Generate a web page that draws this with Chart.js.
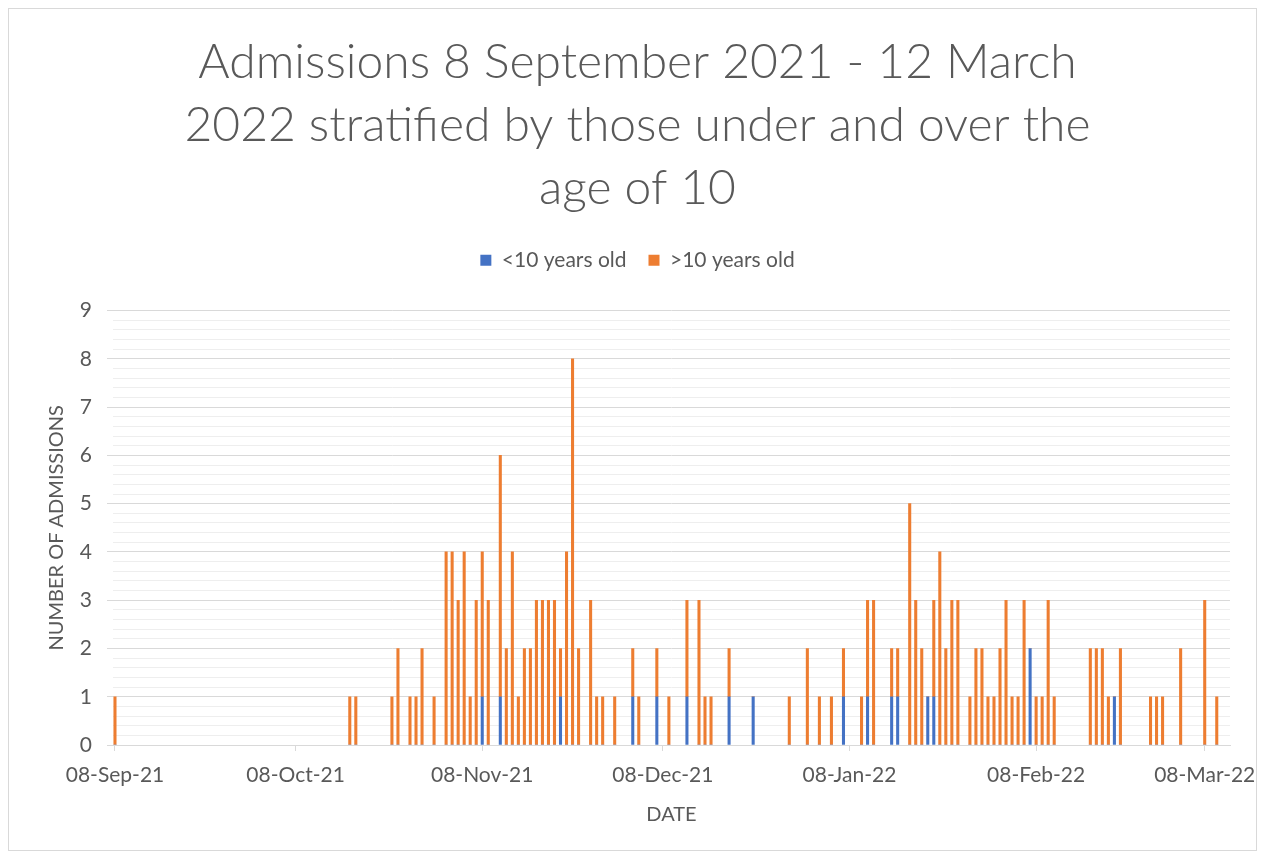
<!DOCTYPE html>
<html><head><meta charset="utf-8">
<script src="https://cdn.jsdelivr.net/npm/chart.js@4.4.1/dist/chart.umd.min.js"></script>
<style>
html,body{margin:0;padding:0;background:#fff;}
#frame{position:absolute;left:8px;top:8px;width:1249px;height:843px;border:1px solid #d9d9d9;box-sizing:border-box;}
#wrap{position:absolute;left:0;top:0;width:1264px;height:857px;}
</style></head><body>
<div id="frame"></div>
<div id="wrap"><canvas id="c" width="1264" height="857"></canvas></div>
<script>
const startDate = '2021-09-08';
const endDate = '2022-03-12';

const admissionDates = [
 '2021-09-08','2021-10-17','2021-10-18','2021-10-24','2021-10-25','2021-10-27','2021-10-28','2021-10-29','2021-10-31',
 '2021-11-02','2021-11-03','2021-11-04','2021-11-05','2021-11-06','2021-11-07','2021-11-08','2021-11-09','2021-11-11',
 '2021-11-12','2021-11-13','2021-11-14','2021-11-15','2021-11-16','2021-11-17','2021-11-18','2021-11-19','2021-11-20',
 '2021-11-21','2021-11-22','2021-11-23','2021-11-24','2021-11-26','2021-11-27','2021-11-28','2021-11-30',
 '2021-12-03','2021-12-04','2021-12-07','2021-12-09','2021-12-12','2021-12-14','2021-12-15','2021-12-16','2021-12-19',
 '2021-12-23','2021-12-29',
 '2022-01-01','2022-01-03','2022-01-05','2022-01-07','2022-01-10','2022-01-11','2022-01-12','2022-01-15','2022-01-16',
 '2022-01-18','2022-01-19','2022-01-20','2022-01-21','2022-01-22','2022-01-23','2022-01-24','2022-01-25','2022-01-26',
 '2022-01-28','2022-01-29','2022-01-30','2022-01-31',
 '2022-02-01','2022-02-02','2022-02-03','2022-02-04','2022-02-05','2022-02-06','2022-02-07','2022-02-08','2022-02-09',
 '2022-02-10','2022-02-11','2022-02-17','2022-02-18','2022-02-19','2022-02-20','2022-02-21','2022-02-22','2022-02-27',
 '2022-02-28','2022-03-01','2022-03-04','2022-03-08','2022-03-10'
];

const under10 = [
 0,0,0,0,0,0,0,0,0,
 0,0,0,0,0,0,1,0,1,
 0,0,0,0,0,0,0,0,0,
 1,0,0,0,0,0,0,0,
 1,0,1,0,1,0,0,0,1,
 1,0,
 0,0,0,1,0,1,0,1,1,
 0,0,0,1,1,0,0,0,0,
 0,0,0,0,
 0,0,0,0,0,0,2,0,0,
 0,0,0,0,0,0,1,0,0,
 0,0,0,0,0
];

const over10 = [
 1,1,1,1,2,1,1,2,1,
 4,4,3,4,1,3,3,3,5,
 2,4,1,2,2,3,3,3,3,
 1,4,8,2,3,1,1,1,
 1,1,1,1,2,3,1,1,1,
 0,1,
 2,1,1,1,1,2,3,1,1,
 5,3,2,0,2,4,2,3,3,
 1,2,2,1,
 1,2,3,1,1,3,0,1,1,
 3,1,2,2,2,1,0,2,1,
 1,1,2,3,1
];

const tickDates = ['2021-09-08','2021-10-08','2021-11-08','2021-12-08','2022-01-08','2022-02-08','2022-03-08'];
const tickLabels = ['08-Sep-21','08-Oct-21','08-Nov-21','08-Dec-21','08-Jan-22','08-Feb-22','08-Mar-22'];

const titleLines = ['Admissions 8 September 2021 - 12 March','2022 stratified by those under and over the','age of 10'];
const seriesNames = ['<10 years old','>10 years old'];

function dayIndex(s){
  const a = s.split('-').map(Number), b = startDate.split('-').map(Number);
  return Math.round((Date.UTC(a[0],a[1]-1,a[2]) - Date.UTC(b[0],b[1]-1,b[2]))/86400000);
}
const tickDays = tickDates.map(dayIndex);

const TXT = '#595959';
const isMajor = v => Math.abs(v - Math.round(v)) < 1e-6;

const legendGap = {
  id: 'legendGap',
  beforeInit(chart) {
    const origFit = chart.legend.fit;
    chart.legend.fit = function () { origFit.call(this); this.height += 30; };
  }
};

new Chart(document.getElementById('c'), {
  type: 'bar',
  plugins: [legendGap],
  data: {
    datasets: [
      { label: seriesNames[0], data: admissionDates.map((d,i)=>({x: dayIndex(d), y: under10[i]})),
        backgroundColor: '#4472C4', borderWidth: 0, barThickness: 2.4 },
      { label: seriesNames[1], data: admissionDates.map((d,i)=>({x: dayIndex(d), y: over10[i]})),
        backgroundColor: '#ED7D31', borderWidth: 0, barThickness: 2.4 }
    ]
  },
  options: {
    responsive: false,
    animation: false,
    layout: { padding: { left: 45, right: 34, top: 0, bottom: 30 } },
    plugins: {
      title: { display: true, text: titleLines, color: TXT,
        font: { family: 'Lato', size: 48, weight: '300', lineHeight: 1.31 },
        padding: { top: 31, bottom: 8 } },
      legend: { display: true, position: 'top',
        labels: { color: TXT, font: { family: 'Lato', size: 21 }, boxWidth: 11, boxHeight: 11, padding: 22 } },
      tooltip: { enabled: false }
    },
    scales: {
      x: {
        type: 'linear', stacked: true, offset: false, min: -0.33, max: 185.2,
        afterBuildTicks: (scale) => { scale.ticks = tickDays.map(v => ({ value: v })); },
        afterFit: (scale) => { scale.height = 82; scale.paddingRight = 0; scale.paddingLeft = 0; },
        ticks: { autoSkip: false, maxRotation: 0, color: TXT, padding: 12,
          font: { family: 'Lato', size: 21 },
          callback: (v) => { const i = tickDays.indexOf(v); return i >= 0 ? tickLabels[i] : ''; } },
        grid: { offset: false, drawOnChartArea: false, drawTicks: true, tickLength: 6, color: '#d9d9d9' },
        border: { display: true, color: '#d9d9d9' },
        title: { display: true, text: 'DATE', color: TXT, font: { family: 'Lato', size: 20 }, padding: 0 }
      },
      y: {
        stacked: true, min: 0, max: 9,
        afterFit: (scale) => { scale.width = 68; },
        ticks: { stepSize: 0.2, autoSkip: false, color: TXT, padding: 15,
          font: { family: 'Lato', size: 21 },
          callback: (v) => isMajor(v) ? String(Math.round(v)) : '' },
        grid: { color: (c) => isMajor(c.tick.value) ? '#d9d9d9' : '#eeeeee',
          lineWidth: 1, drawTicks: true, tickLength: 6,
          tickColor: (c) => isMajor(c.tick.value) ? '#d9d9d9' : 'rgba(0,0,0,0)' },
        border: { display: false },
        title: { display: true, text: 'NUMBER OF ADMISSIONS', color: TXT, font: { family: 'Lato', size: 20 }, padding: 0 }
      }
    }
  }
});
</script>
</body></html>
